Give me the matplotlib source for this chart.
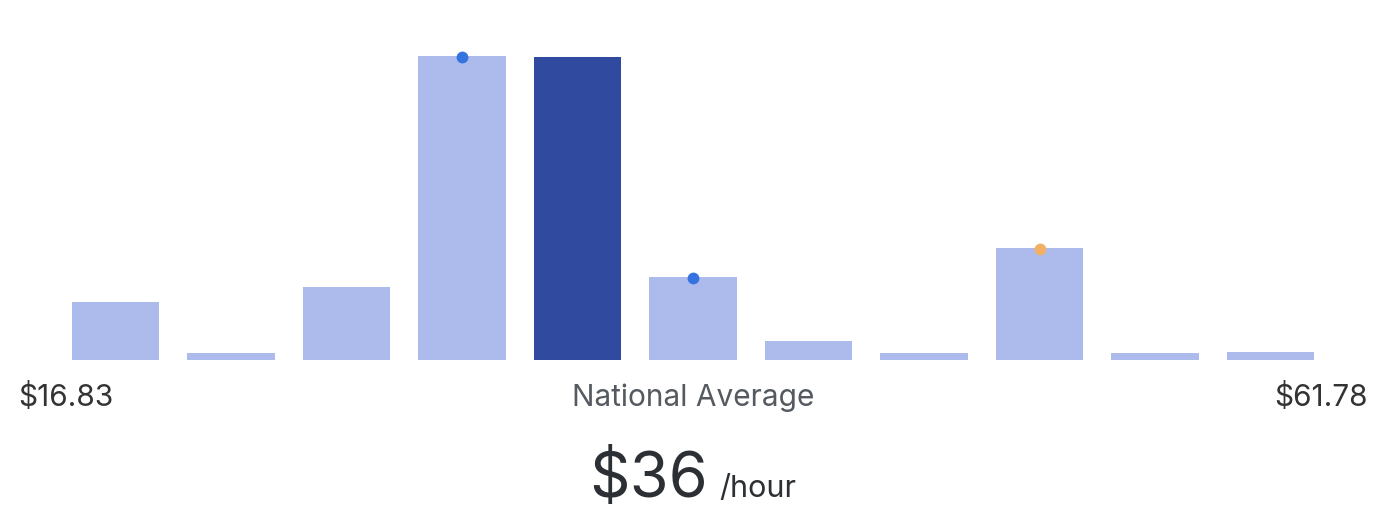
import numpy as np
import matplotlib
matplotlib.use("Agg")
import matplotlib.pyplot as plt

plt.rcParams['font.family'] = ['Inter', 'DejaVu Sans']

# bar heights (relative share of workers per pay bucket)
heights = [58, 7, 73, 304, 303, 83, 19, 7, 112, 7, 8]
highlight_idx = 4
dot_blue_idx = [3, 5]
dot_orange_idx = [8]
low_label = "$16.83"
high_label = "$61.78"
mid_label = "National Average"
avg_value = "$36"
avg_unit = "/hour"

LIGHT = "#adbbec"
DARK = "#2f4a9e"
BLUE_DOT = "#3574e0"
ORANGE_DOT = "#f2b066"

W, H = 1386, 532
fig = plt.figure(figsize=(W / 100, H / 100), dpi=100)

# axes: baseline at y=360px, top at y=56px
ax = fig.add_axes([0, (H - 360) / H, 1, 304 / H])
x = np.arange(len(heights))
colors = [DARK if i == highlight_idx else LIGHT for i in x]
ax.bar(x, heights, width=0.76, color=colors, linewidth=0)

for idx, col in [(i, BLUE_DOT) for i in dot_blue_idx] + [(i, ORANGE_DOT) for i in dot_orange_idx]:
    ax.plot(idx, heights[idx] - 1, 'o', color=col, markersize=8.5,
            markeredgewidth=0, clip_on=False, zorder=5)

ax.set_xlim(-1, 11)
ax.set_ylim(0, max(heights))
ax.axis('off')


def px(xp, yp):
    return xp / W, 1 - yp / H


fig.text(*px(18, 406), low_label, ha='left', va='baseline', fontsize=21.5, color='#333333')
fig.text(*px(693, 406), mid_label, ha='center', va='baseline', fontsize=21.5, color='#555a60')
fig.text(*px(1368, 406), high_label, ha='right', va='baseline', fontsize=21.5, color='#333333')
fig.text(*px(589, 497), avg_value, ha='left', va='baseline', fontsize=45.5, color='#2c2f33')
fig.text(*px(719, 497), avg_unit, ha='left', va='baseline', fontsize=22, color='#2c2f33')

fig.savefig("out.png", dpi=100)
